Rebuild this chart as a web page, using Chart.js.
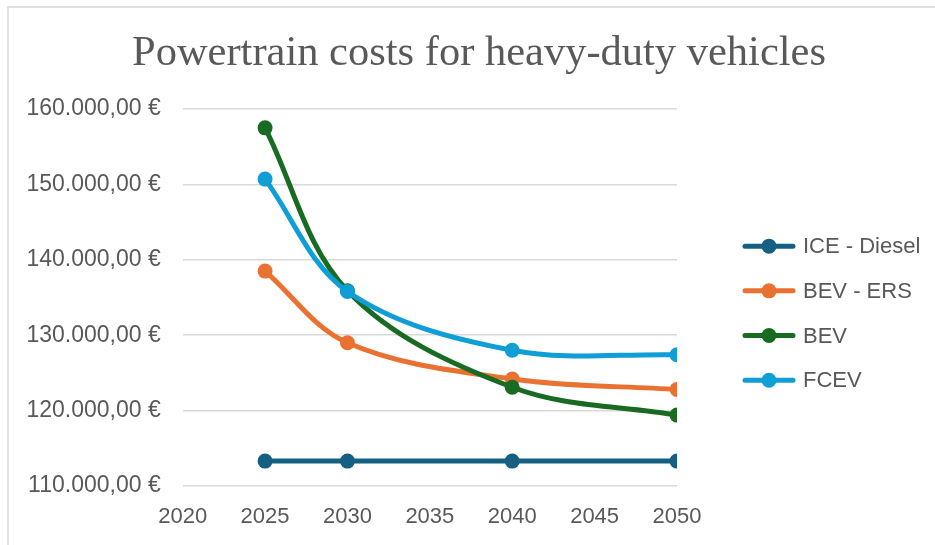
<!DOCTYPE html>
<html>
<head>
<meta charset="utf-8">
<script src="https://cdn.jsdelivr.net/npm/chart.js@4.4.1/dist/chart.umd.min.js"></script>
<style>
    html, body { margin: 0; padding: 0; background: #fff; overflow: hidden; }
    #frame { position: absolute; left: 7px; top: 6px; width: 1000px; height: 600px; border: 2px solid #e0e0e0; }
    #wrap { position: absolute; left: 0; top: 0; width: 935px; height: 545px; }
</style>
</head>
<body>
<div id="frame"></div>
<div id="wrap"><canvas id="myChart"></canvas></div>
<script>
// data
var years = [2025, 2030, 2040, 2050];
var seriesNames = ["ICE - Diesel", "BEV - ERS", "BEV", "FCEV"];
var iceDiesel = [113300, 113300, 113300, 113300];
var bevErs = [138500, 129000, 124200, 122800];
var bev = [157500, 135900, 123100, 119400];
var fcev = [150700, 135800, 128000, 127400];
var seriesColors = ["#156082", "#E97132", "#196B24", "#0F9ED5"];
var xTicks = [2020, 2025, 2030, 2035, 2040, 2045, 2050];
var yTicks = [110000, 120000, 130000, 140000, 150000, 160000];

var textColor = "#595959";
var sansFont = "'Liberation Sans', Arial, sans-serif";

function toPoints(values) {
    return values.map((v, i) => ({ x: years[i], y: v }));
}

function euro(v) {
    return String(v).replace(/\B(?=(\d{3})+(?!\d))/g, ".") + ",00 €";
}

// excel-like legend: short line with a dot, then the series name
const lineLegend = {
    id: "lineLegend",
    afterDraw(chart, args, opts) {
        const { ctx, chartArea } = chart;
        let sets = chart.data.datasets;
        let x = chartArea.right + opts.offsetX;
        let yMid = (chartArea.top + chartArea.bottom) / 2 + opts.offsetY;
        let y = yMid - ((sets.length - 1) / 2) * opts.rowGap;
        ctx.save();
        ctx.font = opts.font;
        ctx.textBaseline = "middle";
        ctx.textAlign = "left";
        sets.forEach((ds) => {
            ctx.strokeStyle = ds.borderColor;
            ctx.lineWidth = ds.borderWidth;
            ctx.lineCap = "round";
            ctx.beginPath();
            ctx.moveTo(x + 3, y);
            ctx.lineTo(x + opts.markerWidth - 3, y);
            ctx.stroke();
            ctx.fillStyle = ds.borderColor;
            ctx.beginPath();
            ctx.arc(x + opts.markerWidth / 2, y, ds.pointRadius, 0, Math.PI * 2);
            ctx.fill();
            ctx.fillStyle = opts.color;
            ctx.fillText(ds.label, x + opts.markerWidth + opts.textGap, y + 1);
            y += opts.rowGap;
        });
        ctx.restore();
    },
};

var allValues = [iceDiesel, bevErs, bev, fcev];
var datasets = allValues.map((vals, i) => ({
    label: seriesNames[i],
    data: toPoints(vals),
    borderColor: seriesColors[i],
    backgroundColor: seriesColors[i],
    pointBackgroundColor: seriesColors[i],
    pointBorderWidth: 0,
    pointRadius: 7.5,
    borderWidth: 5,
    tension: 0.35,
    order: allValues.length - i, // later series drawn on top
}));

const ctx = document.getElementById("myChart");
var chart = new Chart(ctx, {
    type: "line",
    data: { datasets: datasets },
    plugins: [lineLegend],
    options: {
        responsive: true,
        maintainAspectRatio: false,
        animation: { duration: 0 },
        devicePixelRatio: 1,
        layout: { padding: { left: 23, right: 0, top: 0, bottom: 0 } },
        scales: {
            x: {
                type: "linear",
                min: 2020,
                max: 2050,
                afterBuildTicks: (s) => {
                    s.ticks = xTicks.map((v) => ({ value: v }));
                },
                afterFit: (s) => {
                    s.height = 59;
                },
                grid: { display: false },
                border: { display: false },
                ticks: {
                    color: textColor,
                    padding: 10,
                    font: { family: sansFont, size: 22 },
                    callback: (v) => String(v),
                },
            },
            y: {
                type: "linear",
                min: 110000,
                max: 160000,
                afterBuildTicks: (s) => {
                    s.ticks = yTicks.map((v) => ({ value: v }));
                },
                afterFit: (s) => {
                    s.width = 159.7;
                },
                grid: { color: "#d9d9d9", lineWidth: 1.5, drawTicks: false },
                border: { display: false },
                ticks: {
                    color: textColor,
                    padding: 22,
                    font: { family: sansFont, size: 23 },
                    callback: (v) => euro(v),
                },
            },
            // empty room on the right that holds the legend
            legendRoom: {
                type: "linear",
                position: "right",
                display: true,
                grid: { display: false },
                border: { display: false },
                ticks: { display: false },
                afterFit: (s) => {
                    s.width = 258;
                },
            },
        },
        plugins: {
            title: {
                display: true,
                text: "Powertrain costs for heavy-duty vehicles",
                color: textColor,
                font: { family: "'Liberation Serif', 'Times New Roman', serif", size: 42.5, weight: "normal" },
                padding: { top: 28, bottom: 30 },
            },
            legend: { display: false },
            lineLegend: {
                offsetX: 65,
                offsetY: 15.7,
                rowGap: 44.7,
                markerWidth: 54,
                textGap: 7,
                color: textColor,
                font: "22px " + sansFont,
            },
            tooltip: { enabled: false },
        },
    },
});
</script>
</body>
</html>
